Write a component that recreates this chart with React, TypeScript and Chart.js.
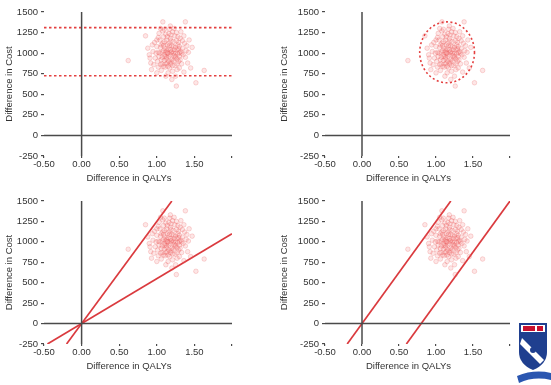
import React, { useEffect, useRef } from "react";
import { Chart, registerables } from "chart.js";
Chart.register(...registerables);

const FONT = '"Liberation Sans", Arial, sans-serif';

const xTicks = [-0.5, 0, 0.5, 1.0, 1.5, 2.0];
const yTicks = [-250, 0, 250, 500, 750, 1000, 1250, 1500];
const xTitle = "Difference in QALYs";
const yTitle = "Difference in Cost";

const qalyDiff = [
  1.02, 1.10, 1.15, 1.20, 1.25, 1.08, 1.18, 1.12, 1.22, 1.30,
  0.98, 1.05, 1.14, 1.28, 1.16, 1.09, 1.24, 1.32, 1.00, 1.19,
  0.95, 1.07, 1.13, 1.26, 1.21, 1.11, 1.17, 1.29, 1.04, 1.23,
  0.92, 0.97, 1.34, 1.36, 1.06, 1.15, 1.27, 1.31, 1.10, 1.03,
  0.90, 0.93, 1.38, 1.40, 1.12, 1.25, 1.33, 1.18, 1.08, 1.38,
  0.88, 1.00, 1.42, 1.45, 1.20, 1.26, 1.52, 1.63, 0.62, 0.85,
  1.14, 1.19, 1.22, 1.16, 1.09, 1.27, 1.13, 1.05, 1.24, 1.30,
  1.01, 1.11, 1.21, 1.17, 1.07, 1.28, 1.35, 1.02, 0.96, 1.12,
  1.23, 1.18, 1.14, 1.29, 1.06, 1.31, 1.09, 1.25, 1.20, 1.16,
  0.99, 1.04, 1.33, 1.37, 1.10, 1.27, 1.15, 1.22, 1.18, 1.13,
  0.94, 1.08, 1.32, 1.41, 1.47, 1.36, 1.02, 1.19, 1.24, 1.11,
  1.28, 1.06, 1.17, 0.91, 1.43, 1.21, 1.30, 1.14, 1.26, 1.00,
  1.12, 1.20, 1.23, 1.16, 1.10, 1.34, 1.05, 1.39, 1.07, 1.29,
  1.19, 1.15, 1.25, 1.13, 1.22, 1.03, 1.30, 1.09, 1.18, 1.27,
];
const costDiff = [
  1010, 980, 1050, 920, 1000, 1120, 1180, 870, 1080, 960,
  940, 860, 1000, 1100, 1240, 1200, 850, 1020, 1080, 1010,
  1020, 950, 930, 1150, 1260, 1060, 820, 900, 1160, 970,
  880, 1130, 1060, 1210, 790, 760, 800, 1180, 1290, 1240,
  980, 800, 950, 1090, 720, 720, 870, 1330, 1380, 1380,
  1060, 760, 1010, 820, 680, 600, 640, 790, 910, 1210,
  1100, 890, 1140, 960, 1030, 1040, 1160, 1070, 1210, 1080,
  900, 830, 780, 1090, 1010, 990, 980, 1190, 860, 1230,
  1300, 1040, 880, 1130, 920, 920, 840, 1070, 1020, 1120,
  1000, 1000, 1000, 1120, 1140, 870, 840, 910, 980, 1030,
  1100, 1270, 1260, 880, 1070, 770, 830, 1150, 940, 960,
  1200, 1100, 1290, 940, 1160, 850, 820, 1200, 1250, 1160,
  1010, 1090, 1040, 900, 910, 1150, 1300, 1030, 870, 1050,
  1220, 1000, 960, 950, 1000, 960, 1010, 1090, 870, 930,
];

// panel A: interval band
const costLower = 725;
const costUpper = 1310;
// panel B: confidence ellipse
const ellipseCenterQaly = 1.15;
const ellipseCenterCost = 1010;
const ellipseRadiusQaly = 0.37;
const ellipseRadiusCost = 370;
// panel C: two ceiling ratios through origin
const wedgeSlopes = [1250, 550];
// panel D: parallel lines
const parallelSlope = 1250;
const parallelIntercepts = [0, 0.8];

const X_MIN = xTicks[0];
const X_MAX = xTicks[xTicks.length - 1];
const Y_MIN = yTicks[0];
const Y_MAX = yTicks[yTicks.length - 1];

const RED = "rgb(218,58,62)";
const AXIS = "#4a4a4a";

function lineThrough(slope: number, xIntercept: number) {
  const x1 = Math.max(X_MIN, xIntercept + Y_MIN / slope);
  const x2 = Math.min(X_MAX, xIntercept + Y_MAX / slope);
  return [
    { x: x1, y: slope * (x1 - xIntercept) },
    { x: x2, y: slope * (x2 - xIntercept) },
  ];
}

type Kind = "band" | "ellipse" | "wedge" | "parallel";
type Area = { l: number; r: number; t: number; b: number };

function Panel(props: { kind: Kind; left: number; top: number; w: number; h: number; area: Area }) {
  const { kind, left, top, w, h, area } = props;
  const ref = useRef<HTMLCanvasElement>(null);
  useEffect(() => {
    const pts = qalyDiff.map((x, i) => ({ x, y: costDiff[i] }));
    const lineDs = (data: any[], extra: any = {}) => ({
      data,
      showLine: true,
      pointRadius: 0,
      borderColor: RED,
      borderWidth: 1.7,
      fill: false,
      ...extra,
    });
    const datasets: any[] = [
      {
        data: [{ x: 0, y: Y_MIN }, { x: 0, y: Y_MAX }],
        showLine: true, pointRadius: 0, borderColor: AXIS, borderWidth: 1.5, clip: 4,
      },
      {
        data: [{ x: X_MIN, y: 0 }, { x: X_MAX, y: 0 }],
        showLine: true, pointRadius: 0, borderColor: AXIS, borderWidth: 1.5, clip: 4,
      },
      {
        data: pts,
        pointRadius: 2.3,
        pointBackgroundColor: "rgba(240,100,100,0.16)",
        pointBorderColor: "rgba(230,80,80,0.28)",
        pointBorderWidth: 0.8,
      },
    ];
    if (kind === "band") {
      [costUpper, costLower].forEach((c) =>
        datasets.push(lineDs([{ x: X_MIN, y: c }, { x: X_MAX, y: c }], { borderDash: [2.5, 2.5], borderWidth: 1.6, borderColor: "rgb(228,64,64)", clip: 4 }))
      );
    }
    if (kind === "wedge") {
      wedgeSlopes.forEach((s) => datasets.push(lineDs(lineThrough(s, 0))));
    }
    if (kind === "parallel") {
      parallelIntercepts.forEach((xi) => datasets.push(lineDs(lineThrough(parallelSlope, xi))));
    }

    const ellipsePlugin = {
      id: "ellipse",
      afterDatasetsDraw(chart: any) {
        if (kind !== "ellipse") return;
        const xs = chart.scales.x, ys = chart.scales.y;
        const cx = xs.getPixelForValue(ellipseCenterQaly);
        const cy = ys.getPixelForValue(ellipseCenterCost);
        const rx = Math.abs(xs.getPixelForValue(ellipseCenterQaly + ellipseRadiusQaly) - cx);
        const ry = Math.abs(ys.getPixelForValue(ellipseCenterCost + ellipseRadiusCost) - cy);
        const ctx = chart.ctx;
        ctx.save();
        ctx.strokeStyle = "rgb(228,64,64)";
        ctx.lineWidth = 1.6;
        ctx.setLineDash([2, 2.5]);
        ctx.beginPath();
        ctx.ellipse(cx, cy, rx, ry, 0, 0, Math.PI * 2);
        ctx.stroke();
        ctx.restore();
      },
    };
    const titlePlugin = {
      id: "titles",
      afterDraw(chart: any) {
        const ctx = chart.ctx;
        const ca = chart.chartArea;
        ctx.save();
        ctx.fillStyle = "#333";
        ctx.font = `9.5px ${FONT}`;
        ctx.textAlign = "center";
        ctx.textBaseline = "middle";
        ctx.fillText(xTitle, (ca.left + ca.right) / 2 - 9, ca.bottom + 22);
        ctx.translate(9.5, (ca.top + ca.bottom) / 2);
        ctx.rotate(-Math.PI / 2);
        ctx.fillText(yTitle, 0, 0);
        ctx.restore();
      },
    };

    const tickFont = { family: FONT, size: 9.5 };
    const chart = new Chart(ref.current as HTMLCanvasElement, {
      type: "scatter",
      data: { datasets },
      options: {
        animation: false,
        responsive: false,
        events: [],
        layout: { padding: { top: area.t, right: w - area.r, left: 0, bottom: 0 } },
        plugins: { legend: { display: false }, tooltip: { enabled: false } },
        scales: {
          x: {
            type: "linear",
            min: X_MIN,
            max: X_MAX,
            afterBuildTicks: (s: any) => { s.ticks = xTicks.map((v) => ({ value: v })); },
            afterFit: (s: any) => { s.height = h - area.b; },
            ticks: {
              autoSkip: false,
              maxRotation: 0,
              color: "#333",
              font: tickFont,
              padding: 1,
              callback: (v: any) => (Number(v) === X_MAX ? "" : Number(v).toFixed(2)),
            },
            grid: { drawOnChartArea: false, drawTicks: true, tickLength: 2, color: AXIS, lineWidth: 1.2 },
            border: { display: false },
          },
          y: {
            type: "linear",
            min: Y_MIN,
            max: Y_MAX,
            afterBuildTicks: (s: any) => { s.ticks = yTicks.map((v) => ({ value: v })); },
            afterFit: (s: any) => { s.width = area.l; },
            ticks: {
              autoSkip: false,
              color: "#333",
              font: tickFont,
              padding: 3,
              callback: (v: any) => String(v),
            },
            grid: { drawOnChartArea: false, drawTicks: true, tickLength: 3, color: AXIS, lineWidth: 1.2 },
            border: { display: false },
          },
        },
      } as any,
      plugins: [ellipsePlugin, titlePlugin],
    });
    return () => chart.destroy();
  }, []);
  return (
    <canvas
      ref={ref}
      width={w}
      height={h}
      style={{ position: "absolute", left, top, width: w, height: h }}
    />
  );
}

function Logo() {
  return (
    <svg width={34} height={63} style={{ position: "absolute", left: 517, top: 322 }} viewBox="0 0 34 63">
      <rect x={2} y={1} width={28} height={11} fill="#1f3f8f" />
      <rect x={4} y={3} width={24} height={7} fill="#fff" />
      <rect x={6} y={4} width={12} height={5} fill="#c8102e" />
      <rect x={20} y={4} width={6} height={5} fill="#c8102e" />
      <path d="M2 12 H30 V30 Q30 42 16 48 Q2 42 2 30 Z" fill="#1f3f8f" />
      <path d="M5 16 L27 38 L23 42 L3 22 Z" fill="#fff" />
      <circle cx={16} cy={28} r={3} fill="#1f3f8f" />
      <path d="M0 54 Q17 47 34 51 L34 58 Q17 54 2 61 Z" fill="#2a56b0" />
    </svg>
  );
}

export default function App() {
  return (
    <div style={{ position: "absolute", left: 0, top: 0, width: 551, height: 385, background: "#fff" }}>
      <Panel kind="band" left={0} top={0} w={275} h={190} area={{ l: 44, r: 232, t: 12, b: 156 }} />
      <Panel kind="ellipse" left={275} top={0} w={276} h={190} area={{ l: 50, r: 235, t: 12, b: 156 }} />
      <Panel kind="wedge" left={0} top={190} w={275} h={195} area={{ l: 44, r: 232, t: 11, b: 154 }} />
      <Panel kind="parallel" left={275} top={190} w={276} h={195} area={{ l: 50, r: 235, t: 11, b: 154 }} />
      <Logo />
    </div>
  );
}
